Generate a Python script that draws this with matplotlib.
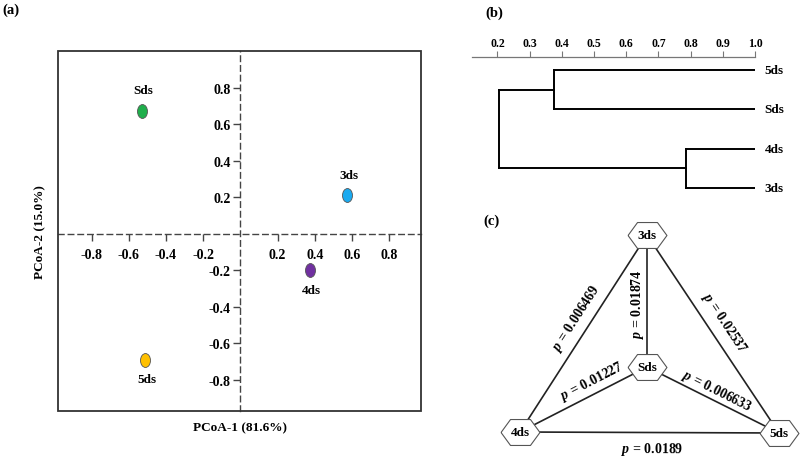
"""PCoA, dendrograma y red de p-valores (paneles a, b, c)."""

import math

import matplotlib
matplotlib.use("Agg")
import matplotlib.pyplot as plt
from matplotlib.patches import Rectangle
from matplotlib.path import Path
from matplotlib.transforms import Affine2D

plt.rcParams["font.family"] = ["Liberation Serif", "DejaVu Serif"]
plt.rcParams["font.weight"] = "bold"
plt.rcParams["axes.unicode_minus"] = False
plt.rcParams["mathtext.fontset"] = "custom"
plt.rcParams["mathtext.it"] = "Liberation Serif:italic:bold"
plt.rcParams["mathtext.rm"] = "Liberation Serif:bold"

# ---- datos panel (a): PCoA ----
samples = ["Sds", "3ds", "4ds", "5ds"]
pcoa1 = [-0.53, 0.575, 0.375, -0.51]
pcoa2 = [0.67, 0.21, -0.20, -0.69]
colors = ["#1fae4b", "#1aaaf0", "#7030a0", "#ffc000"]
label_dy = [15, 15, -14, -14]  # puntos, arriba / abajo del punto
ticks = [-0.8, -0.6, -0.4, -0.2, 0.2, 0.4, 0.6, 0.8]
tick_labels = ["-0.8", "-0.6", "-0.4", "-0.2", "0.2", "0.4", "0.6", "0.8"]

# ---- datos panel (b): dendrograma (similitud) ----
leaves = ["3ds", "4ds", "Sds", "5ds"]  # de abajo hacia arriba
merge_45 = 0.785   # 4ds + 3ds
merge_s5 = 0.375   # Sds + 5ds
merge_root = 0.205
dendro_ticks = [0.2, 0.3, 0.4, 0.5, 0.6, 0.7, 0.8, 0.9, 1.0]

# ---- datos panel (c): p-valores por pares ----
edges = [("3ds", "4ds"), ("Sds", "3ds"), ("3ds", "5ds"),
         ("Sds", "4ds"), ("Sds", "5ds"), ("4ds", "5ds")]
pvalues = ["0.006469", "0.01874", "0.02537", "0.01227", "0.006633", "0.0189"]

W, H = 800, 460


def px_rect(x0, y0, x1, y1):
    return [x0 / W, 1 - y1 / H, (x1 - x0) / W, (y1 - y0) / H]


fig = plt.figure(figsize=(W / 100, H / 100), dpi=100)

# ================= (a) =================
ax = fig.add_axes(px_rect(58, 52, 421, 412))
ax.set_xlim(-0.98, 0.97)
ax.set_ylim(-0.97, 1.0)
ax.add_patch(Rectangle((0, 0), 1, 1, transform=ax.transAxes, fill=False,
                       lw=1.3, edgecolor="#333333", zorder=5, clip_on=False))
for side in ("top", "right"):
    ax.spines[side].set_visible(False)
for side in ("left", "bottom"):
    ax.spines[side].set_position("zero")
    ax.spines[side].set_linestyle((0, (4, 3)))
    ax.spines[side].set_color("#444444")
    ax.spines[side].set_linewidth(1.0)
ax.set_xticks(ticks)
ax.set_xticklabels(tick_labels)
ax.set_yticks(ticks)
ax.set_yticklabels(tick_labels)
ax.tick_params(axis="x", direction="out", length=5, width=1, pad=5,
               labelsize=10, color="#444444")
ax.tick_params(axis="y", direction="out", length=5, width=1, pad=2,
               labelsize=10, color="#444444")

ellipse = Path.unit_circle().transformed(Affine2D().scale(0.72, 1.0))
for name, x, y, c, dy in zip(samples, pcoa1, pcoa2, colors, label_dy):
    ax.scatter([x], [y], s=100, marker=ellipse, color=c,
               edgecolor="#555555", linewidth=0.6, zorder=4)
    ax.annotate(name, (x, y), xytext=(1, dy), textcoords="offset points",
                ha="center", va="center", fontsize=9.5, fontweight="bold")

fig.text(240 / W, 1 - 428 / H, "PCoA-1 (81.6%)", ha="center", va="center",
         fontsize=9.5, fontweight="bold")
fig.text(40 / W, 1 - 232 / H, "PCoA-2 (15.0%)", ha="center", va="center",
         rotation=90, fontsize=9.5, fontweight="bold")
fig.text(11 / W, 1 - 10 / H, "(a)", ha="center", va="center", fontsize=10.5,
         fontweight="bold")

# ================= (b) =================
axb = fig.add_axes(px_rect(472, 58, 755, 200))
axb.set_xlim(0.121, 1.0)
axb.set_ylim(-0.28, 3.33)
for side in ("left", "right", "bottom"):
    axb.spines[side].set_visible(False)
axb.spines["top"].set_color("#777777")
axb.spines["top"].set_linewidth(0.9)
axb.xaxis.tick_top()
axb.set_xticks(dendro_ticks)
axb.set_xticklabels([f"{t:.1f}" for t in dendro_ticks])
axb.tick_params(axis="x", direction="out", length=4, width=0.8, pad=2,
                labelsize=8.5, color="#777777")
axb.set_yticks([])

pos = {name: i for i, name in enumerate(leaves)}
lw = 1.4
# 4ds + 3ds
for leaf in ("3ds", "4ds"):
    axb.plot([1.0, merge_45], [pos[leaf], pos[leaf]], color="black", lw=lw)
axb.plot([merge_45, merge_45], [pos["3ds"], pos["4ds"]], color="black", lw=lw)
# Sds + 5ds
for leaf in ("Sds", "5ds"):
    axb.plot([1.0, merge_s5], [pos[leaf], pos[leaf]], color="black", lw=lw)
axb.plot([merge_s5, merge_s5], [pos["Sds"], pos["5ds"]], color="black", lw=lw)
# raiz
y_low = (pos["3ds"] + pos["4ds"]) / 2
y_high = (pos["Sds"] + pos["5ds"]) / 2
axb.plot([merge_45, merge_root], [y_low, y_low], color="black", lw=lw)
axb.plot([merge_s5, merge_root], [y_high, y_high], color="black", lw=lw)
axb.plot([merge_root, merge_root], [y_low, y_high], color="black", lw=lw)
for leaf in leaves:
    axb.text(1.03, pos[leaf], leaf, ha="left", va="center", fontsize=9.5,
             fontweight="bold", clip_on=False)
fig.text(494 / W, 1 - 13 / H, "(b)", ha="center", va="center",
         fontsize=10.5, fontweight="bold")

# ================= (c) =================
axc = fig.add_axes(px_rect(460, 200, 800, 460))
axc.set_xlim(460, 800)
axc.set_ylim(460, 200)
axc.axis("off")

node_xy = {"3ds": (647, 236), "Sds": (647, 368),
           "4ds": (520, 433), "5ds": (779, 434)}
edge_label_xy = [(577, 318), (637, 304), (724, 323),
                 (592, 382), (717, 391), (652, 450)]

hexagon = Path([(-1, 0), (-0.513, 0.667), (0.513, 0.667), (1, 0),
                (0.513, -0.667), (-0.513, -0.667), (-1, 0)])

for (a, b), p, (tx, ty) in zip(edges, pvalues, edge_label_xy):
    (x1, y1), (x2, y2) = node_xy[a], node_xy[b]
    axc.plot([x1, x2], [y1, y2], color="#222222", lw=1.2, zorder=1)
    ang = math.degrees(math.atan2(-(y2 - y1), x2 - x1))
    if ang > 90.5:
        ang -= 180
    elif ang <= -89.5:
        ang += 180
    axc.text(tx, ty, r"$p$ = " + p, rotation=ang, rotation_mode="anchor",
             ha="center", va="center", fontsize=10, fontweight="bold",
             zorder=4)

for name, (x, y) in node_xy.items():
    axc.plot([x], [y], marker=hexagon, markersize=28, markerfacecolor="white",
             markeredgecolor="#555555", markeredgewidth=0.8, zorder=3)
    axc.text(x, y, name, ha="center", va="center", fontsize=9.5,
             fontweight="bold", zorder=4)

fig.text(492 / W, 1 - 221 / H, "(c)", ha="center", va="center",
         fontsize=10.5, fontweight="bold")

fig.savefig("out.png", dpi=100)
